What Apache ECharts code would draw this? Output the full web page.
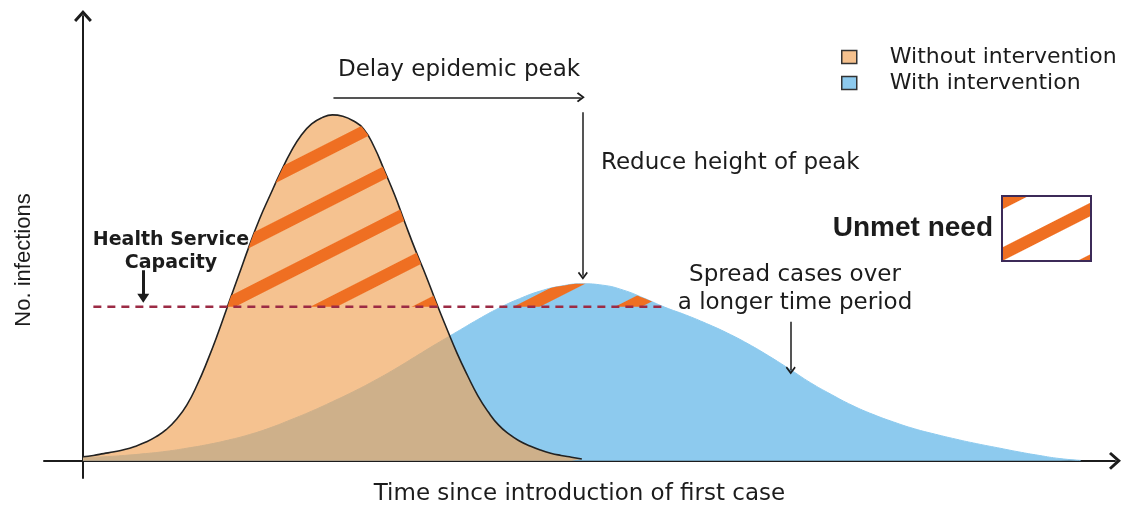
<!DOCTYPE html>
<html>
<head>
<meta charset="utf-8">
<title>Flatten the curve</title>
<script src="https://cdn.jsdelivr.net/npm/echarts@6/dist/echarts.min.js"></script>
<style>
html, body { margin: 0; padding: 0; background: #fff; }
#chart { width: 1126px; height: 506px; }
</style>
</head>
<body>
<div id="chart"></div>
<script>
// values (time since first case / no. of infections, arbitrary units)
var orangeTime = [0, 1, 2, 3, 4, 5, 6, 7, 8, 9, 10, 11, 12, 13, 14, 15, 16, 17, 18, 19, 20, 21, 22, 23, 24,
	25, 26, 27, 28, 29, 30, 31, 32, 33, 34, 35, 36, 37, 38, 39, 40, 41, 42, 43, 44, 45, 46, 47, 48];
var orangeValues = [0.9, 1.2, 1.6, 2.0, 2.5, 3.2, 4.1, 5.3, 6.9, 9.2, 12.4, 16.9, 22.3, 28.3, 34.8, 41.2, 47.6, 53.6, 58.8, 63.8, 68.4, 72.1, 74.6, 76.0, 76.6,
	76.3, 75.3, 73.5, 69.6, 64.3, 58.8, 52.6, 46.6, 41.0, 35.0, 29.3, 23.8, 18.9, 14.4, 10.8, 7.9, 5.9, 4.4, 3.3, 2.4, 1.7, 1.2, 0.8, 0.4];

var blueTime = [0, 2, 4, 6, 8, 10, 12, 14, 16, 18, 20, 22, 24, 26, 28, 30, 32, 34, 36, 38, 40, 42, 44, 46, 48,
	50, 52, 54, 56, 58, 60, 62, 64, 66, 68, 70, 72, 74, 76, 78, 80, 82, 84, 86, 88, 90, 92, 94, 96];
var blueValues = [0.7, 0.9, 1.2, 1.6, 2.1, 2.8, 3.6, 4.6, 5.8, 7.3, 9.1, 11.0, 13.1, 15.3, 17.7, 20.3, 23.1, 25.9, 28.6, 31.3, 33.8, 35.9, 37.6, 38.7, 39.2,
	38.9, 37.8, 36.0, 34.0, 32.3, 30.4, 28.3, 25.9, 23.2, 20.3, 17.3, 14.7, 12.3, 10.3, 8.6, 7.1, 5.9, 4.8, 3.8, 2.9, 2.0, 1.2, 0.5, 0.1];

var capacity = 34.1;
var capacityRange = [1, 56];

// where each curve crosses the capacity line
var orangeCross = [13.89, 34.16];
var blueCross = [40.3, 55.9];

var seriesNames = ['Without intervention', 'With intervention', 'Unmet need'];

function pairs(xs, ys) {
	var out = [];
	for (var i = 0; i < xs.length; i++) {
		out.push([xs[i], ys[i]]);
	}
	return out;
}

// part of a curve above capacity, closed on the capacity line
function aboveCapacity(xs, ys, cross) {
	var out = [[cross[0], capacity]];
	for (var i = 0; i < xs.length; i++) {
		if (xs[i] > cross[0] && xs[i] < cross[1] && ys[i] > capacity) {
			out.push([xs[i], ys[i]]);
		}
	}
	out.push([cross[1], capacity]);
	return out;
}

var chevron = 'path://M50,0 L100,56 L88,67 L50,25 L12,67 L0,56 Z';
var stripes = {
	symbol: 'rect',
	symbolSize: 1,
	color: '#ef6f22',
	dashArrayX: [1, 0],
	dashArrayY: [12, 34],
	rotation: -0.47
};
var ink = '#1c1c1c';
var font = 'DejaVu Sans';

var myChart = echarts.init(document.getElementById('chart'));

var option = {
	animation: false,
	textStyle: { fontFamily: font, color: ink },
	grid: { left: 44, right: 11, top: 16, bottom: 28, containLabel: false, outerBoundsMode: 'none' },
	xAxis: {
		type: 'value',
		min: -3.75,
		max: 99.3,
		name: 'Time since introduction of first case',
		nameLocation: 'middle',
		nameGap: 5,
		nameTextStyle: { fontFamily: font, fontSize: 23, color: ink },
		axisLine: {
			onZero: true,
			symbol: ['none', chevron],
			symbolSize: [18, 12],
			lineStyle: { color: ink, width: 2 }
		},
		axisTick: { show: false },
		axisLabel: { show: false },
		splitLine: { show: false }
	},
	yAxis: {
		type: 'value',
		min: -3.8,
		max: 98.5,
		axisLine: {
			onZero: true,
			symbol: ['none', chevron],
			symbolSize: [18, 12],
			lineStyle: { color: ink, width: 2 }
		},
		axisTick: { show: false },
		axisLabel: { show: false },
		splitLine: { show: false }
	},
	legend: [
		{
			orient: 'vertical',
			left: 836,
			top: 41,
			icon: 'rect',
			itemWidth: 15,
			itemHeight: 13,
			itemGap: 4,
			selectedMode: false,
			itemStyle: { borderColor: '#333', borderWidth: 1.5, opacity: 1 },
			textStyle: { fontFamily: font, fontSize: 22, lineHeight: 22, color: ink, padding: [0, 0, 0, 28] },
			data: [
				{ name: seriesNames[0], itemStyle: { color: '#f5c18e' } },
				{ name: seriesNames[1], itemStyle: { color: '#8dcaee' } }
			]
		},
		{
			right: 29,
			top: 190,
			icon: 'rect',
			align: 'right',
			itemWidth: 89,
			itemHeight: 65,
			selectedMode: false,
			itemStyle: { color: '#fff', borderColor: '#3c2a58', borderWidth: 2, opacity: 1 },
			textStyle: { fontFamily: 'Liberation Sans', fontWeight: 'bold', fontSize: 28, color: ink, padding: [0, 4, 0, 0] },
			data: [seriesNames[2]]
		}
	],
	graphic: [
		{ type: 'text', x: 338, y: 70, style: { text: 'Delay epidemic peak', font: '23px "DejaVu Sans"', fill: ink, align: 'left', textAlign: 'left', verticalAlign: 'middle', textVerticalAlign: 'middle' } },
		{ type: 'text', x: 601, y: 163, style: { text: 'Reduce height of peak', font: '23px "DejaVu Sans"', fill: ink, align: 'left', textAlign: 'left', verticalAlign: 'middle', textVerticalAlign: 'middle' } },
		{ type: 'text', x: 171, y: 240, style: { text: 'Health Service', font: 'bold 19px "DejaVu Sans"', fill: ink, align: 'center', textAlign: 'center', verticalAlign: 'middle', textVerticalAlign: 'middle' } },
		{ type: 'text', x: 171, y: 263, style: { text: 'Capacity', font: 'bold 19px "DejaVu Sans"', fill: ink, align: 'center', textAlign: 'center', verticalAlign: 'middle', textVerticalAlign: 'middle' } },
		{ type: 'text', x: 795, y: 275, style: { text: 'Spread cases over', font: '23px "DejaVu Sans"', fill: ink, align: 'center', textAlign: 'center', verticalAlign: 'middle', textVerticalAlign: 'middle' } },
		{ type: 'text', x: 795, y: 303, style: { text: 'a longer time period', font: '23px "DejaVu Sans"', fill: ink, align: 'center', textAlign: 'center', verticalAlign: 'middle', textVerticalAlign: 'middle' } },
		{ type: 'text', x: 24, y: 260, rotation: Math.PI / 2, style: { text: 'No. infections', font: '22px "Liberation Sans"', fill: ink, align: 'center', textAlign: 'center', verticalAlign: 'middle', textVerticalAlign: 'middle' } }
	],
	series: [
		{
			name: seriesNames[1],
			type: 'line',
			data: pairs(blueTime, blueValues),
			smooth: true,
			symbol: 'none',
			z: 2,
			itemStyle: { color: '#8dcaee' },
			lineStyle: { color: '#8dcaee', width: 1 },
			areaStyle: { color: '#8dcaee', opacity: 1 }
		},
		{
			name: seriesNames[0],
			type: 'line',
			data: pairs(orangeTime, orangeValues),
			smooth: true,
			symbol: 'none',
			z: 3,
			itemStyle: { color: '#f5c18e' },
			lineStyle: { color: '#222', width: 1.6 },
			areaStyle: { color: 'rgba(240,162,86,0.66)', opacity: 1 }
		},
		{
			name: seriesNames[2],
			type: 'line',
			data: aboveCapacity(orangeTime, orangeValues, orangeCross),
			smooth: true,
			symbol: 'none',
			z: 4,
			itemStyle: { color: '#ef6f22', decal: stripes },
			lineStyle: { color: 'rgba(0,0,0,0)', width: 0 },
			areaStyle: { color: 'rgba(0,0,0,0)', opacity: 1, origin: capacity }
		},
		{
			name: seriesNames[2],
			type: 'line',
			data: aboveCapacity(blueTime, blueValues, blueCross),
			smooth: true,
			symbol: 'none',
			z: 4,
			itemStyle: { color: '#ef6f22', decal: stripes },
			lineStyle: { color: 'rgba(0,0,0,0)', width: 0 },
			areaStyle: { color: 'rgba(0,0,0,0)', opacity: 1, origin: capacity }
		},
		{
			name: 'Health Service Capacity',
			type: 'line',
			data: [[capacityRange[0], capacity], [capacityRange[1], capacity]],
			symbol: 'none',
			z: 5,
			lineStyle: { color: '#9c2b45', width: 2.5, type: [8, 6] },
			markLine: {
				silent: true,
				symbol: ['none', chevron],
				symbolSize: [10, 8],
				label: { show: false },
				lineStyle: { color: ink, width: 1.5, type: 'solid' },
				data: [
					[{ coord: [24.1, 80.5] }, { coord: [47.9, 80.5] }],
					[{ coord: [48.1, 77.2] }, { coord: [48.1, 41.0] }],
					[{ coord: [68.1, 30.8] }, { coord: [68.1, 20.0] }],
					[{ coord: [5.8, 42.2], lineStyle: { width: 3 } }, { coord: [5.8, 36.0], symbol: 'triangle', symbolSize: [12, 9], lineStyle: { width: 3 } }]
				]
			}
		}
	]
};

myChart.setOption(option);
</script>
</body>
</html>
